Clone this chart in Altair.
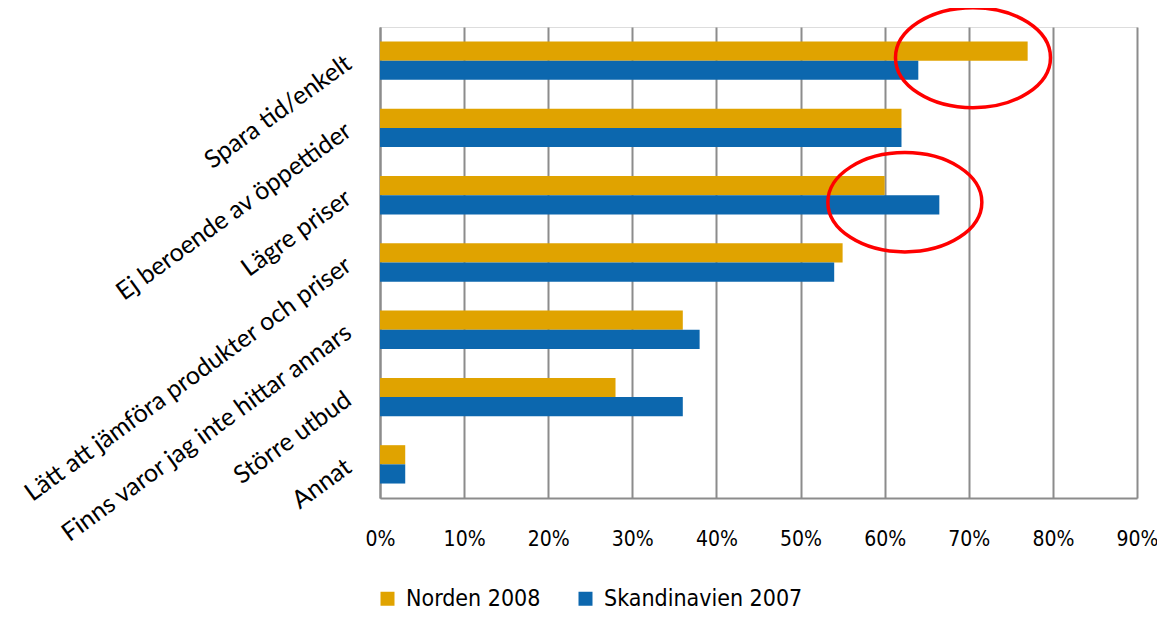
import altair as alt
import pandas as pd

categories = [
    "Spara tid/enkelt",
    "Ej beroende av öppettider",
    "Lägre priser",
    "Lätt att jämföra produkter och priser",
    "Finns varor jag inte hittar annars",
    "Större utbud",
    "Annat",
]
series_names = ["Norden 2008", "Skandinavien 2007"]
norden_2008 = [0.77, 0.62, 0.60, 0.55, 0.36, 0.28, 0.03]
skandinavien_2007 = [0.64, 0.62, 0.665, 0.54, 0.38, 0.36, 0.03]
x_ticks = [0.0, 0.1, 0.2, 0.3, 0.4, 0.5, 0.6, 0.7, 0.8, 0.9]
colors = ["#E0A300", "#0C67AE"]

# highlighted (circled) spots
circle_cats = ["Spara tid/enkelt", "Lägre priser"]
circle_vals = [0.705, 0.624]

rows = []
for c, a, b in zip(categories, norden_2008, skandinavien_2007):
    rows.append({"cat": c, "series": series_names[0], "value": a})
    rows.append({"cat": c, "series": series_names[1], "value": b})
df = pd.DataFrame(rows)

LABEL_FONT = "Lato"
TICK_FONT = "DejaVu Sans Condensed, DejaVu Sans, sans-serif"

y_scale = alt.Scale(domain=categories, paddingInner=0.43, paddingOuter=0.215)
x_scale = alt.Scale(domain=[0, 0.9], nice=False)

bars = alt.Chart(df).mark_bar().encode(
    x=alt.X("value:Q", scale=x_scale,
            axis=alt.Axis(values=x_ticks, format=".0%", title=None, grid=True,
                          gridColor="#8c8c8c", gridWidth=2, domainColor="#8c8c8c",
                          domainWidth=2, ticks=False, labelPadding=30, labelFlush=False,
                          labelFont=TICK_FONT, labelFontSize=21, labelColor="#000000")),
    y=alt.Y("cat:N", scale=y_scale, sort=categories,
            axis=alt.Axis(title=None, ticks=False, domainColor="#8c8c8c", domainWidth=2,
                          labelAngle=324, labelAlign="right", labelBaseline="middle",
                          labelPadding=32, labelFont=LABEL_FONT, labelFontSize=25,
                          labelColor="#000000", labelLimit=700)),
    yOffset=alt.YOffset("series:N", sort=series_names, scale=alt.Scale(paddingInner=0)),
    color=alt.Color("series:N", sort=series_names,
                    scale=alt.Scale(domain=series_names, range=colors),
                    legend=alt.Legend(title=None, orient="none", direction="horizontal",
                                      columns=2, legendX=-4, legendY=560,
                                      symbolType="square", symbolSize=196,
                                      symbolStrokeWidth=0, labelFont=TICK_FONT,
                                      labelFontSize=23, labelColor="#000000",
                                      labelLimit=400,
                                      labelOffset=7, columnPadding=33, padding=0)),
)

k = 0.552
r = 0.645
ellipse_path = (
    f"M -1 0 C -1 {-k*r:.4f} {-k:.4f} {-r:.4f} 0 {-r:.4f} "
    f"C {k:.4f} {-r:.4f} 1 {-k*r:.4f} 1 0 "
    f"C 1 {k*r:.4f} {k:.4f} {r:.4f} 0 {r:.4f} "
    f"C {-k:.4f} {r:.4f} -1 {k*r:.4f} -1 0 Z"
)

c1 = alt.Chart(pd.DataFrame({"cat": circle_cats[:1], "value": circle_vals[:1]})).mark_point(
    shape=ellipse_path, size=155 * 155, stroke="#FF0000", strokeWidth=3.5, filled=False,
    opacity=1, yOffset=-3
).encode(x=alt.X("value:Q", scale=x_scale), y=alt.Y("cat:N", scale=y_scale, sort=categories))
c2 = alt.Chart(pd.DataFrame({"cat": circle_cats[1:], "value": circle_vals[1:]})).mark_point(
    shape=ellipse_path, size=154 * 154, stroke="#FF0000", strokeWidth=3.5, filled=False,
    opacity=1, yOffset=7
).encode(x=alt.X("value:Q", scale=x_scale), y=alt.Y("cat:N", scale=y_scale, sort=categories))

chart = alt.layer(bars, c1, c2).properties(
    width=757, height=471,
    autosize=alt.AutoSizeParams(type="none"),
    padding={"left": 372, "top": 19, "right": 20, "bottom": 112},
).configure_view(stroke=None).configure(background="#ffffff")

chart.save("out.html", embed_options={"renderer": "svg", "actions": False})
